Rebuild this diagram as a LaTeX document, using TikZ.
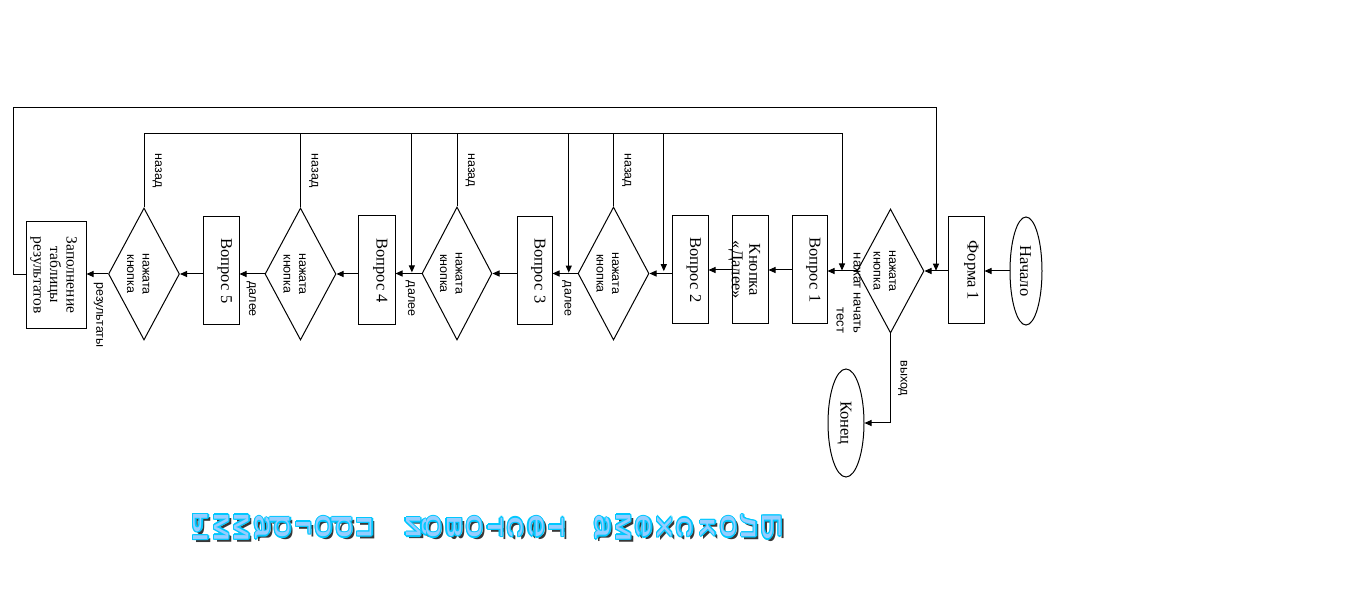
\documentclass[tikz,border=0pt]{standalone}
\usepackage{fontspec}
\setmainfont{Liberation Serif}
\newfontfamily\lsans{Liberation Sans}
\usepackage{graphicx}
\usetikzlibrary{shapes.geometric,arrows.meta,calc}
\definecolor{wafill}{RGB}{150,205,255}
\definecolor{waline}{RGB}{0,200,255}
\definecolor{washadow}{RGB}{55,55,55}
% rotated (top-to-bottom) text, optionally shifted sideways
\newcommand\bt[2][0pt]{\kern#1\relax\rotatebox{-90}{\begin{tabular}{@{}c@{}}#2\end{tabular}}\kern-#1\relax}
\newcommand\btr[1]{\rotatebox{-90}{\begin{tabular}{@{}r@{}}#1\end{tabular}}}
% word-art
\newcommand\waL[1]{\hbox to 44pt{\hss\scalebox{1.6}[1]{#1}\hss}}
\newcommand\wastack[1]{\vbox{\lsans\fontsize{27}{20.5}\selectfont\baselineskip=20.5pt\lineskiplimit=-100pt\lineskip=0pt #1}}
\newcommand\waword[3]{%
  \foreach \dx/\dy/\cc [count=\k] in {3/3/washadow,1.2/0/waline,-1.2/0/waline,0/1.2/waline,0/-1.2/waline,0.9/0.9/waline,-0.9/-0.9/waline,0.9/-0.9/waline,-0.9/0.9/waline}
    {\node[wanode, rotate=-90, text=\cc] (#1s\k) at ($(#2)+(\dx,\dy)$) {\wastack{#3}};}
  \node[wanode, rotate=-90, text=wafill] (#1) at (#2) {\wastack{#3}};
}
\tikzset{
  arr/.style={-{Triangle[length=7pt,width=6pt]}},
  procbox/.style={draw, rectangle, inner sep=0pt, font=\fontsize{16.5}{17.5}\selectfont},
  termnode/.style={draw, ellipse, inner sep=0pt, font=\fontsize{16.5}{17.5}\selectfont},
  decide/.style={draw, diamond, aspect=0.54, inner sep=0pt, font=\lsans\fontsize{12.5}{15.5}\selectfont},
  lbl/.style={inner sep=0pt, font=\lsans\fontsize{12.5}{15}\selectfont},
  wanode/.style={inner sep=0pt},
}
\begin{document}
\begin{tikzpicture}[x=1pt,y=-1pt,line width=1pt]
\useasboundingbox (0,0) rectangle (1369,601);
% nodes
\node[termnode, minimum width=32pt, minimum height=108pt] (nach) at (1026,271) {\bt[-2.5pt]{Начало}};
\node[procbox, minimum width=36pt, minimum height=107pt] (f1) at (966,270.5) {\bt[5pt]{Форма 1}};
\node[decide, minimum width=67pt, minimum height=124pt] (d1) at (890.5,271) {\bt[-6pt]{нажата\\кнопка}};
\node[procbox, minimum width=35pt, minimum height=108pt] (v1) at (809.5,270) {\bt[3.5pt]{Вопрос 1}};
\node[procbox, minimum width=36pt, minimum height=108pt] (kn) at (750,270) {\bt[-6pt]{Кнопка\\«Далее»}};
\node[procbox, minimum width=36pt, minimum height=108pt] (v2) at (690,270) {\bt[3.5pt]{Вопрос 2}};
\node[decide, minimum width=71pt, minimum height=133pt] (d2) at (613.5,273.5) {\bt[-6pt]{нажата\\кнопка}};
\node[procbox, minimum width=35pt, minimum height=108pt] (v3) at (534.5,271) {\bt[3.5pt]{Вопрос 3}};
\node[decide, minimum width=70pt, minimum height=133pt] (d3) at (457,273.5) {\bt[-6pt]{нажата\\кнопка}};
\node[procbox, minimum width=37pt, minimum height=109pt] (v4) at (376.5,270.5) {\bt[3.5pt]{Вопрос 4}};
\node[decide, minimum width=71pt, minimum height=132pt] (d4) at (300.5,274) {\bt[-6pt]{нажата\\кнопка}};
\node[procbox, minimum width=36pt, minimum height=108pt] (v5) at (221,271) {\bt[3.5pt]{Вопрос 5}};
\node[decide, minimum width=71pt, minimum height=132pt] (d5) at (144,274) {\bt[-6pt]{нажата\\кнопка}};
\node[procbox, minimum width=60pt, minimum height=107pt, font=\fontsize{15.5}{16.5}\selectfont] (zap) at (56,275) {\bt[-2.7pt]{Заполнение\\таблицы\\результатов}};
\node[termnode, minimum width=36pt, minimum height=108pt] (kon) at (846,423) {\bt[-2pt]{Конец}};
% helper coordinates
\coordinate (topA) at (0,108);
\coordinate (topB) at (0,134);
\coordinate (leftX) at (13,0);
\coordinate (j0) at ($(d1.east)!0.5!(f1.west)$);
\coordinate (j1) at ($(d1.west)!0.5!(v1.east)$);
\coordinate (j2) at ($(d2.east)!0.65!(v2.west)$);
\coordinate (j3) at ($(v3.east)!0.65!(d2.west)$);
\coordinate (j4) at ($(v4.east)!0.63!(d3.west)$);
% main flow
\draw[arr] (nach.west) -- (nach.west -| f1.east);
\draw[arr] (f1.west |- d1.east) -- (d1.east);
\draw[arr] (d1.west) -- (d1.west -| v1.east);
\draw[arr] (v1.west) -- (v1.west -| kn.east);
\draw[arr] (kn.west) -- (kn.west -| v2.east);
\draw[arr] (v2.west |- d2.east) -- (d2.east);
\draw[arr] (d2.west) -- (d2.west -| v3.east) node[lbl, pos=0.4, below=7pt] {\bt{далее}};
\draw[arr] (v3.west |- d3.east) -- (d3.east);
\draw[arr] (d3.west) -- (d3.west -| v4.east) node[lbl, pos=0.4, below=7pt] {\bt{далее}};
\draw[arr] (v4.west |- d4.east) -- (d4.east);
\draw[arr] (d4.west) -- (d4.west -| v5.east) node[lbl, pos=0.5, below=7pt] {\bt{далее}};
\draw[arr] (v5.west |- d5.east) -- (d5.east);
\draw[arr] (d5.west) -- (d5.west -| zap.east) node[lbl, pos=0.4, below=8pt] {\bt{результаты}};
\draw[arr] (d1.south) |- (kon.east) node[lbl, pos=0.25, right=5pt] {\bt{выход}};
\node[lbl, font=\lsans\fontsize{13}{17}\selectfont] (lab1) at ($(j1)+(6.5,22.5)$) {\btr{нажат начать\\тест}};
% loops
\draw[arr] (zap.west) -- (zap.west -| leftX) -- (leftX |- topA) -- (j0 |- topA) -- (j0);
\draw[arr] (d5.north) -- (d5.north |- topB) node[lbl, midway, right=6pt] {\bt{назад}} -- (j1 |- topB) -- (j1);
\draw (d4.north) -- (d4.north |- topB) node[lbl, midway, right=6pt] {\bt{назад}};
\draw (d3.north) -- (d3.north |- topB) node[lbl, midway, right=6pt] {\bt{назад}};
\draw (d2.north) -- (d2.north |- topB) node[lbl, midway, right=6pt] {\bt{назад}};
\draw[arr] (j4 |- topB) -- (j4);
\draw[arr] (j3 |- topB) -- (j3);
\draw[arr] (j2 |- topB) -- (j2);
% title word-art
\waword{wa1}{741,527}{\waL{Б}\waL{л}\waL{о}\waL{к}}
\waword{wa2}{644,527}{\waL{с}\waL{х}\waL{е}\waL{м}\waL{а}}
\waword{wa3}{485,527}{\waL{т}\waL{е}\waL{с}\waL{т}\waL{о}\waL{в}\waL{о}\waL{й}}
\waword{wa4}{283,527}{\waL{п}\waL{р}\waL{о}\waL{г}\waL{р}\waL{а}\waL{м}\waL{м}\waL{ы}}
\end{tikzpicture}
\end{document}
